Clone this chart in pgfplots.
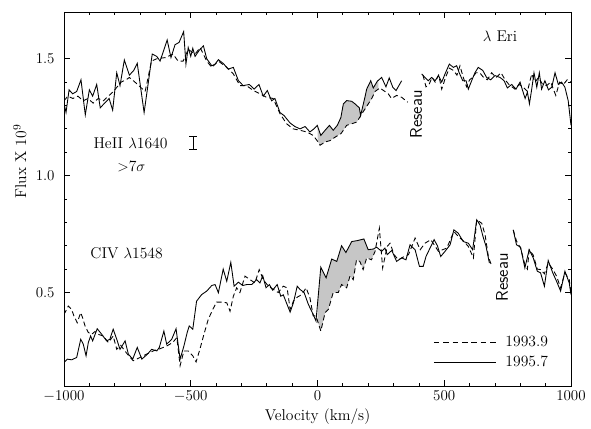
\documentclass[border=0pt]{standalone}
\usepackage{pgfplots}
\pgfplotsset{compat=1.18}
\usepgfplotslibrary{fillbetween}

\begin{document}
\begin{tikzpicture}[font=\fontsize{12.5}{15}\selectfont]
\begin{axis}[
    scale only axis,
    width=405.6pt, height=299.2pt,
    xmin=-1000, xmax=1000, ymin=0.1, ymax=1.7,
    xtick={-1000,-500,0,500,1000},
    ytick={0.5,1.0,1.5},
    minor x tick num=4, minor y tick num=4,
    tick align=inside,
    major tick length=5pt, minor tick length=2.5pt,
    axis line style={line width=0.7pt},
    every tick/.style={line width=0.6pt, black},
    /pgf/number format/1000 sep={},
    yticklabel style={xshift=-4pt, /pgf/number format/fixed,
        /pgf/number format/fixed zerofill, /pgf/number format/precision=1},
    xlabel={Velocity (km/s)},
    ylabel={Flux X 10$^9$},
    xlabel style={at={(axis description cs:0.5,-0.083)}, anchor=center},
    ylabel style={at={(axis description cs:-0.087,0.6)}, anchor=center, rotate=0},
    set layers,
    legend style={draw=none, fill=none, inner sep=0pt, anchor=west,
        at={(axis cs:456,0.243)}, row sep=2pt, column sep=5pt,
        cells={anchor=west}},
    legend image code/.code={\draw[#1] (0pt,0pt) -- (50pt,0pt);},
]
\addlegendimage{black, line width=0.7pt, dash pattern=on 4.5pt off 3pt}
\addlegendentry{1993.9}
\addlegendimage{black, line width=0.7pt}
\addlegendentry{1995.7}

% HeII 1640, 1995.7 (solid)
\addplot[black, line width=0.7pt, name path=hs, forget plot] coordinates {
(-1000,1.31) (-992,1.27) (-980,1.367) (-966,1.35) (-950,1.36) (-933,1.41)
(-916,1.26) (-900,1.367) (-887,1.34) (-871,1.39) (-857,1.29) (-840,1.31)
(-822,1.33) (-808,1.28) (-792,1.44) (-779,1.385) (-762,1.495) (-742,1.43)
(-725,1.45) (-711,1.48) (-684,1.27) (-671,1.37) (-652,1.52) (-634,1.51)
(-621,1.49) (-593,1.58) (-578,1.505) (-562,1.56) (-546,1.57) (-528,1.616)
(-519,1.477) (-510,1.548) (-500,1.51) (-492,1.545) (-483,1.51) (-466,1.537)
(-450,1.555) (-437,1.50) (-417,1.47) (-404,1.477) (-391,1.496) (-372,1.48)
(-352,1.456) (-332,1.463) (-312,1.406) (-293,1.385) (-269,1.39) (-250,1.37)
(-231,1.39) (-214,1.34) (-198,1.364) (-181,1.32) (-168,1.33) (-148,1.27)
(-132,1.257) (-108,1.225) (-89,1.21) (-69,1.20) (-49,1.21) (-30,1.187)
(-14,1.20) (-1,1.215) (13,1.172) (30,1.194) (47,1.215) (62,1.194)
(78,1.215) (92,1.248) (102,1.307) (115,1.321) (135,1.318) (148,1.307)
(165,1.29) (170,1.257) (187,1.335) (194,1.37) (210,1.406) (220,1.375)
(236,1.404) (253,1.42) (270,1.38) (283,1.418) (297,1.378) (310,1.364)
(332,1.406)
};
\addplot[black, line width=0.7pt, forget plot] coordinates {
(411,1.435) (424,1.42) (437,1.406) (450,1.42) (464,1.406) (477,1.428)
(490,1.40) (503,1.435) (520,1.477) (536,1.463) (549,1.47) (559,1.44)
(573,1.406) (586,1.406) (595,1.37) (608,1.406) (621,1.44) (634,1.463)
(652,1.45) (667,1.42) (683,1.41) (700,1.428) (720,1.42) (736,1.406)
(749,1.375) (766,1.39) (783,1.37) (799,1.40) (809,1.364) (819,1.33)
(828,1.357) (836,1.307) (845,1.37) (854,1.44) (865,1.378) (875,1.44)
(884,1.37) (897,1.406) (911,1.367) (924,1.378) (937,1.44) (950,1.39)
(963,1.40) (976,1.378) (989,1.32) (1000,1.215)
};

% HeII 1640, 1993.9 (dashed)
\addplot[black, line width=0.7pt, dash pattern=on 4pt off 2.5pt, name path=hd, forget plot] coordinates {
(-1000,1.32) (-985,1.34) (-965,1.33) (-945,1.34) (-925,1.32) (-905,1.33)
(-885,1.31) (-865,1.33) (-845,1.32) (-825,1.34) (-805,1.36) (-790,1.38)
(-775,1.40) (-755,1.41) (-742,1.42) (-720,1.40) (-700,1.38) (-680,1.36)
(-672,1.40) (-655,1.49) (-634,1.50) (-600,1.505) (-570,1.52) (-550,1.49)
(-530,1.49) (-510,1.54) (-483,1.52) (-463,1.548) (-437,1.49) (-417,1.463)
(-391,1.49) (-358,1.463) (-332,1.435) (-306,1.385) (-280,1.385) (-253,1.364)
(-227,1.35) (-201,1.335) (-175,1.33) (-148,1.265) (-122,1.222) (-96,1.20)
(-69,1.194) (-43,1.187) (-17,1.172) (5,1.14) (10,1.13) (30,1.144)
(50,1.15) (70,1.165) (93,1.18) (115,1.215) (135,1.222) (155,1.229)
(175,1.265) (194,1.296) (214,1.33) (227,1.36) (246,1.375) (279,1.35)
(292,1.33) (312,1.343) (332,1.335) (356,1.314)
};
\addplot[black, line width=0.7pt, dash pattern=on 4pt off 2.5pt, forget plot] coordinates {
(416,1.43) (428,1.38) (440,1.39) (452,1.42) (464,1.40) (478,1.43)
(490,1.37) (505,1.42) (520,1.46) (536,1.45) (550,1.43) (562,1.47)
(575,1.42) (588,1.38) (600,1.41) (612,1.42) (625,1.44) (640,1.44)
(655,1.42) (670,1.41) (687,1.44) (705,1.42) (724,1.44) (740,1.41)
(755,1.39) (779,1.37) (795,1.39) (810,1.38) (828,1.36) (845,1.435)
(858,1.40) (872,1.42) (888,1.39) (904,1.385) (920,1.40) (940,1.343)
(955,1.40) (970,1.39) (985,1.41) (1000,1.40)
};

% CIV 1548, 1995.7 (solid)
\addplot[black, line width=0.7pt, name path=cs, forget plot] coordinates {
(-1000,0.20) (-987,0.215) (-970,0.212) (-950,0.222) (-934,0.30) (-924,0.279)
(-913,0.229) (-904,0.286) (-895,0.314) (-887,0.293) (-869,0.345) (-851,0.321)
(-832,0.293) (-819,0.30) (-806,0.343) (-792,0.30) (-779,0.257) (-759,0.293)
(-746,0.236) (-729,0.215) (-711,0.265) (-693,0.215) (-671,0.236) (-654,0.257)
(-634,0.25) (-624,0.265) (-606,0.335) (-595,0.279) (-575,0.30) (-558,0.345)
(-542,0.215) (-527,0.271) (-514,0.329) (-506,0.357) (-492,0.343) (-477,0.463)
(-457,0.491) (-437,0.506) (-417,0.53) (-404,0.534) (-391,0.499) (-372,0.60)
(-358,0.548) (-342,0.629) (-329,0.527) (-312,0.544) (-295,0.53) (-279,0.534)
(-260,0.534) (-240,0.555) (-227,0.541) (-216,0.572) (-203,0.52) (-190,0.534)
(-177,0.51) (-159,0.534) (-145,0.484) (-135,0.49) (-108,0.416) (-95,0.456)
(-80,0.527) (-69,0.513) (-53,0.50) (-36,0.449) (-17,0.406) (-6,0.378)
(13,0.608) (34,0.563) (56,0.643) (76,0.633) (95,0.70) (112,0.671)
(135,0.718) (157,0.722) (183,0.729) (200,0.683) (220,0.686) (233,0.694)
(253,0.676) (266,0.69) (275,0.662) (293,0.68) (312,0.633) (332,0.648)
(349,0.64) (365,0.704) (385,0.683) (402,0.612) (417,0.612) (428,0.654)
(447,0.697) (460,0.726) (473,0.70) (486,0.654) (503,0.676) (523,0.704)
(538,0.768) (555,0.754) (575,0.718) (595,0.711) (612,0.683) (628,0.811)
(641,0.789) (653,0.739) (665,0.697) (678,0.626)
};
\addplot[black, line width=0.7pt, forget plot] coordinates {
(772,0.768) (785,0.704) (801,0.694) (818,0.605) (835,0.683) (851,0.648)
(867,0.591) (880,0.584) (895,0.527) (910,0.637) (928,0.584) (943,0.548)
(959,0.506) (976,0.591) (993,0.541) (1000,0.491)
};

% CIV 1548, 1993.9 (dashed)
\addplot[black, line width=0.7pt, dash pattern=on 4pt off 2.5pt, name path=cd, forget plot] coordinates {
(-1000,0.406) (-983,0.442) (-970,0.428) (-961,0.40) (-948,0.371) (-934,0.414)
(-926,0.39) (-917,0.357) (-904,0.329) (-891,0.321) (-878,0.333) (-862,0.32)
(-845,0.314) (-825,0.286) (-806,0.314) (-792,0.257) (-776,0.274) (-760,0.25)
(-745,0.23) (-727,0.208) (-700,0.222) (-675,0.236) (-648,0.25) (-620,0.26)
(-595,0.271) (-571,0.286) (-555,0.307) (-542,0.187) (-527,0.25) (-510,0.25)
(-492,0.229) (-479,0.203) (-464,0.257) (-448,0.321) (-431,0.385) (-413,0.428)
(-398,0.459) (-378,0.459) (-358,0.456) (-345,0.42) (-332,0.484) (-319,0.52)
(-306,0.50) (-286,0.57) (-266,0.555) (-247,0.541) (-230,0.598) (-214,0.555)
(-194,0.527) (-174,0.513) (-155,0.50) (-135,0.527) (-120,0.52) (-108,0.428)
(-95,0.463) (-80,0.48) (-62,0.491) (-45,0.52) (-30,0.478) (-17,0.40)
(-6,0.40) (13,0.335) (30,0.414) (43,0.428) (62,0.50) (82,0.50)
(95,0.534) (115,0.52) (128,0.57) (141,0.555) (154,0.64) (167,0.633)
(180,0.598) (194,0.648) (213,0.64) (227,0.676) (244,0.775) (257,0.605)
(275,0.697) (286,0.711) (302,0.662) (319,0.64) (339,0.652) (359,0.662)
(385,0.733) (405,0.683) (424,0.711) (447,0.726) (477,0.676) (510,0.69)
(538,0.761) (555,0.74) (578,0.718) (595,0.697) (615,0.648) (628,0.811)
(648,0.796) (661,0.747) (674,0.654) (685,0.62)
};
\addplot[black, line width=0.7pt, dash pattern=on 4pt off 2.5pt, forget plot] coordinates {
(772,0.768) (785,0.72) (801,0.69) (818,0.62) (828,0.60) (835,0.683)
(851,0.66) (867,0.60) (880,0.598) (895,0.58) (910,0.626) (928,0.60)
(943,0.57) (959,0.52) (976,0.584) (993,0.555) (1000,0.50)
};

% shaded differences
\addplot[fill=gray!45, draw=none, forget plot] fill between[of=hs and hd, soft clip={domain=0:240}];
\addplot[fill=gray!45, draw=none, forget plot] fill between[of=cs and cd, soft clip={domain=0:225}];

% error bar
\addplot[black, line width=0.6pt, mark=none, forget plot,
    error bars/.cd, y dir=both, y explicit,
    error mark options={rotate=90, mark size=3pt, line width=0.6pt}]
    coordinates {(-491,1.14) +- (0,0.026)};

\node[anchor=west] at (axis cs:-901,1.138) {HeII $\lambda$1640};
\node[anchor=west] at (axis cs:-807,1.04) {$>$7$\sigma$};
\node[anchor=west] at (axis cs:-913,0.67) {CIV $\lambda$1548};
\node at (axis cs:720,1.598) {$\lambda$ Eri};
\node[rotate=90, font=\fontsize{13.5}{15}\sffamily] at (axis cs:389,1.262) {Reseau};
\node[rotate=90, font=\fontsize{13.5}{15}\sffamily] at (axis cs:728,0.564) {Reseau};
\end{axis}
\path (current axis.south west) ++(-51.2pt,-33.6pt) coordinate (bbA);
\path (current axis.north east) ++(16pt,9.6pt) coordinate (bbB);
\pgfresetboundingbox
\path (bbA) rectangle (bbB);
\end{tikzpicture}
\end{document}
